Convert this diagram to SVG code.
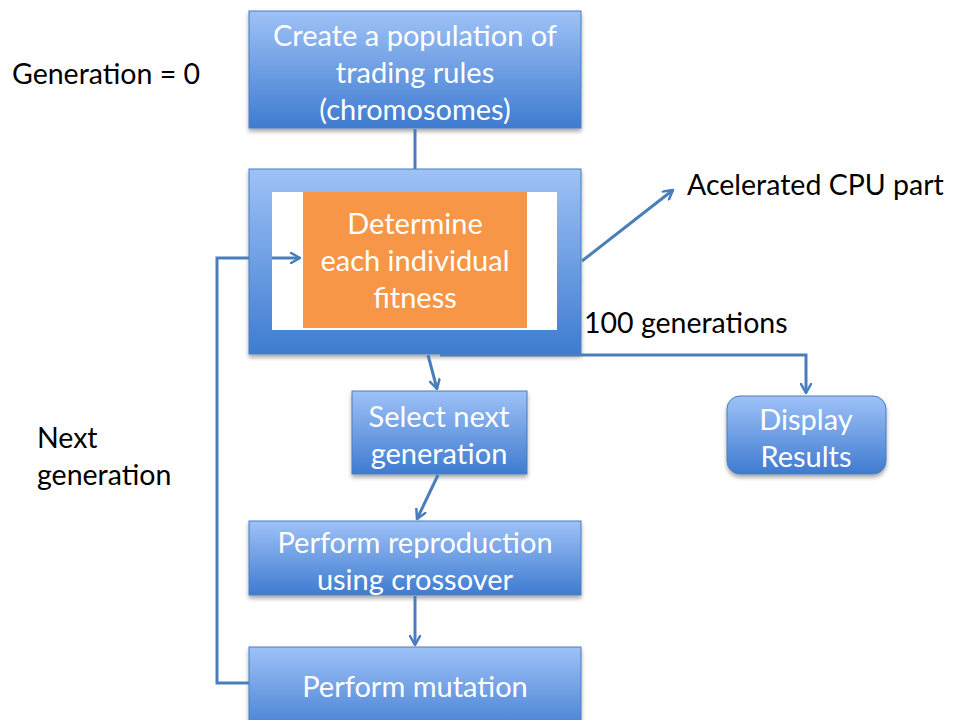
<svg xmlns="http://www.w3.org/2000/svg" width="953" height="720" viewBox="0 0 953 720">
<defs>
<linearGradient id="bg" x1="0" y1="0" x2="0" y2="1">
<stop offset="0" stop-color="#9ec2f7"/>
<stop offset="1" stop-color="#3f7bd0"/>
</linearGradient>
<filter id="sh" x="-10%" y="-10%" width="120%" height="130%">
<feGaussianBlur in="SourceAlpha" stdDeviation="2"/>
<feOffset dx="0" dy="3"/>
<feComponentTransfer><feFuncA type="linear" slope="0.35"/></feComponentTransfer>
<feMerge><feMergeNode/><feMergeNode in="SourceGraphic"/></feMerge>
</filter>
<marker id="ah" viewBox="0 0 12 12" refX="10" refY="6" markerWidth="12" markerHeight="12" markerUnits="userSpaceOnUse" orient="auto">
<path d="M1,1 L10,6 L1,11" fill="none" stroke="#4a7ebb" stroke-width="2.5" stroke-linecap="round" stroke-linejoin="round"/>
</marker>
</defs>
<style>
.box{fill:url(#bg);stroke:#4a7ebb;stroke-width:1;filter:url(#sh)}
.wt{fill:#ffffff;font-family:Lato,"Open Sans",sans-serif;font-size:29px;text-anchor:middle}
.bt{fill:#000000;font-family:Lato,"Open Sans",sans-serif;font-size:28.5px}
.cn{fill:none;stroke:#4a7ebb;stroke-width:3}
.ar{fill:none;stroke:#4a7ebb;stroke-width:3;marker-end:url(#ah)}
</style>

<g id="create">
<rect class="box" x="249" y="11" width="332" height="117"/>
<text class="wt" x="415" y="46">Create a population of</text>
<text class="wt" x="415" y="83">trading rules</text>
<text class="wt" x="415" y="120">(chromosomes)</text>
</g>

<g id="fitness">
<rect class="box" x="249" y="169" width="332" height="185"/>
<rect x="272" y="192" width="285" height="138" fill="#ffffff"/>
<rect x="303" y="192" width="224" height="136" fill="#f79646"/>
<text class="wt" x="415" y="234">Determine</text>
<text class="wt" x="415" y="271">each individual</text>
<text class="wt" x="415" y="308">fitness</text>
</g>

<g id="select">
<rect class="box" x="352" y="391" width="175" height="83"/>
<text class="wt" x="439" y="427">Select next</text>
<text class="wt" x="439" y="464">generation</text>
</g>

<g id="display">
<rect class="box" x="727" y="396" width="159" height="78" rx="13" ry="13"/>
<text class="wt" x="806" y="430">Display</text>
<text class="wt" x="806" y="467">Results</text>
</g>

<g id="reproduction">
<rect class="box" x="249" y="521" width="332" height="74"/>
<text class="wt" x="415" y="553">Perform reproduction</text>
<text class="wt" x="415" y="590">using crossover</text>
</g>

<g id="mutation">
<rect class="box" x="249" y="647" width="332" height="90"/>
<text class="wt" x="415" y="697">Perform mutation</text>
</g>

<g id="connectors">
<line class="cn" x1="415" y1="129" x2="415" y2="169"/>
<polyline class="cn" points="249,683 217,683 217,258 249,258"/>
<line class="ar" x1="272" y1="258" x2="300" y2="258"/>
<line class="ar" x1="582" y1="261" x2="673" y2="190"/>
<line class="ar" x1="428" y1="355" x2="437" y2="389"/>
<polyline class="ar" points="440,355 806,355 806,393"/>
<line class="ar" x1="438" y1="475" x2="417" y2="519"/>
<line class="ar" x1="415" y1="596" x2="415" y2="645"/>
</g>

<g id="labels">
<text class="bt" x="12" y="84">Generation = 0</text>
<text class="bt" x="687" y="195">Acelerated CPU part</text>
<text class="bt" x="584" y="333">100 generations</text>
<text class="bt" x="37" y="448">Next</text>
<text class="bt" x="37" y="485">generation</text>
</g>
</svg>
